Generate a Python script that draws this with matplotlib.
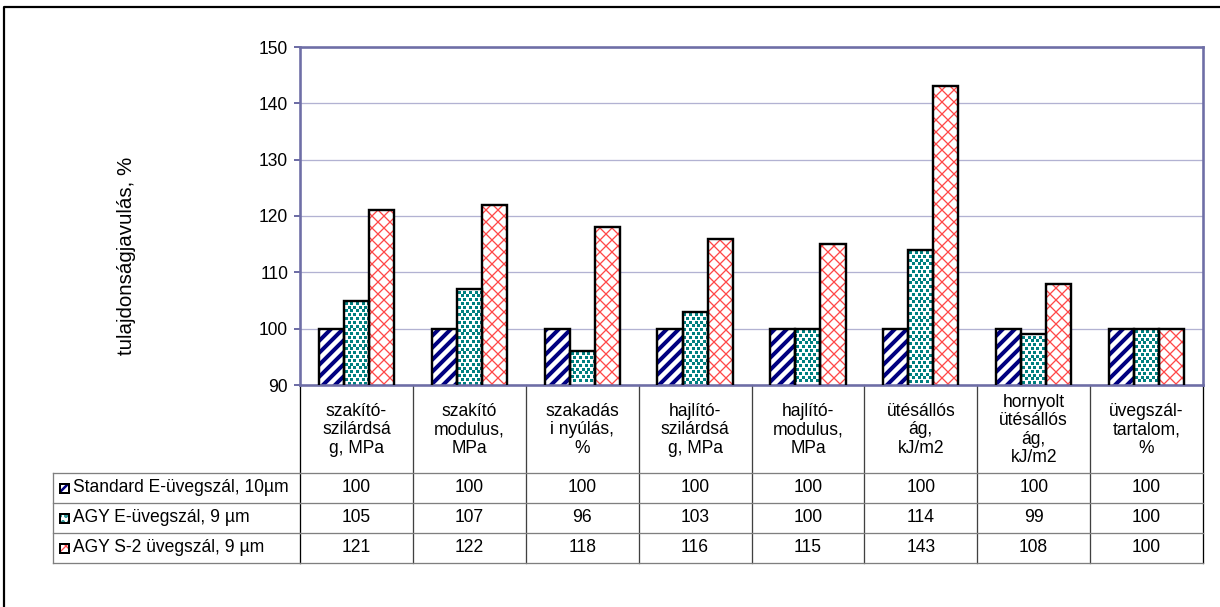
import matplotlib
matplotlib.use("Agg")
import matplotlib.pyplot as plt
import numpy as np
from matplotlib import transforms
from matplotlib.lines import Line2D
from matplotlib.patches import Rectangle

plt.rcParams['font.family'] = ['Liberation Sans', 'DejaVu Sans']

categories = ["szakító-\nszilárdsá\ng, MPa", "szakító\nmodulus,\nMPa", "szakadás\ni nyúlás,\n%",
              "hajlító-\nszilárdsá\ng, MPa", "hajlító-\nmodulus,\nMPa", "ütésállós\nág,\nkJ/m2",
              "hornyolt\nütésállós\nág,\nkJ/m2", "üvegszál-\ntartalom,\n%"]
series_names = ["Standard E-üvegszál, 10µm", "AGY E-üvegszál, 9 µm", "AGY S-2 üvegszál, 9 µm"]
standard_e = [100, 100, 100, 100, 100, 100, 100, 100]
agy_e = [105, 107, 96, 103, 100, 114, 99, 100]
agy_s2 = [121, 122, 118, 116, 115, 143, 108, 100]
y_ticks = [90, 100, 110, 120, 130, 140, 150]
y_label = "tulajdonságjavulás, %"

W, H, DPI = 1220, 607, 72
fig = plt.figure(figsize=(W / DPI, H / DPI), dpi=DPI)
fig.patch.set_facecolor('white')


def fx(x):
    return x / W


def fy(y):
    return 1 - y / H


AX_L, AX_R, AX_T, AX_B = 300, 1203, 47, 385
ax = fig.add_axes([fx(AX_L), fy(AX_B), (AX_R - AX_L) / W, (AX_B - AX_T) / H])

frame_col = '#6E6EA6'
grid_col = '#B2B2D2'
FS = 17.5

series = [standard_e, agy_e, agy_s2]
hatches = ['//', None, 'xx']
hatch_cols = ['#000080', '#008080', '#FF4848']
hatch_lw = [4.0, 1.0, 1.3]
bw = 0.222
x = np.arange(len(categories))
offsets = [-bw, 0, bw]
ax.set_xlim(-0.5, len(categories) - 0.5)
ax.set_ylim(y_ticks[0], y_ticks[-1])

# pixel -> data scale for the dotted texture
px_x = (len(categories)) / (AX_R - AX_L)
px_y = (y_ticks[-1] - y_ticks[0]) / (AX_B - AX_T)


def dot_texture(bar, color):
    x0, w = bar.get_x(), bar.get_width()
    y0, y1 = y_ticks[0], bar.get_height()
    xs, ys = [], []
    dx, dy = 5.6, 3.8
    ny = int((y1 - y0) / (dy * px_y)) + 1
    nx = int(w / (dx * px_x)) + 2
    for j in range(ny):
        yy = y1 - (j + 0.6) * dy * px_y
        if yy < y0 + 1.5 * px_y:
            continue
        shift = 0.5 if j % 2 else 0.0
        for i in range(-1, nx):
            xs.append(x0 + (i + 0.35 + shift) * dx * px_x)
            ys.append(yy)
    sc = ax.scatter(xs, ys, marker='s', s=9, color=color, linewidths=0, zorder=2.5)
    sc.set_clip_path(bar)


for vals, off, h, hc, hlw in zip(series, offsets, hatches, hatch_cols, hatch_lw):
    with plt.rc_context({'hatch.linewidth': hlw}):
        bars = ax.bar(x + off, vals, bw, color='white', edgecolor=hc, hatch=h,
                      linewidth=0, zorder=2)
        for b in bars:
            if hasattr(b, 'set_hatch_linewidth'):
                b.set_hatch_linewidth(hlw)
    if h is None:
        for b in bars:
            dot_texture(b, hc)
    ax.bar(x + off, vals, bw, fill=False, edgecolor='black', linewidth=2.4, zorder=3)

ax.set_yticks(y_ticks)
ax.set_xticks([])
ax.yaxis.grid(True, color=grid_col, linewidth=1.3)
ax.set_axisbelow(True)
for s in ax.spines.values():
    s.set_color(frame_col)
    s.set_linewidth(2.6)
ax.tick_params(axis='y', direction='out', length=6, width=2, color=frame_col,
               labelsize=FS, pad=6)

fig.text(fx(127), fy(256), y_label, rotation=90, ha='center', va='center', fontsize=20.5)

# data table below the plot
blend = transforms.blended_transform_factory(ax.transData, fig.transFigure)
row_lines = [473, 503, 533, 563]
line_col = '#7F7F7F'
x_left, x_right = -0.5, len(categories) - 0.5

for i in range(len(categories) + 1):
    ax.add_artist(Line2D([i - 0.5, i - 0.5], [fy(AX_B), fy(row_lines[-1])], transform=blend,
                         color='#404040' if 0 < i < len(categories) else 'black',
                         linewidth=1.3, clip_on=False))
for yy in row_lines:
    fig.add_artist(Line2D([fx(53), fx(AX_L)], [fy(yy), fy(yy)], color=line_col, linewidth=1.3))
    ax.add_artist(Line2D([x_left, x_right], [fy(yy), fy(yy)], transform=blend,
                         color=line_col, linewidth=1.3, clip_on=False))
fig.add_artist(Line2D([fx(53), fx(53)], [fy(row_lines[0]), fy(row_lines[-1])],
                      color=line_col, linewidth=1.3))

for i, c in enumerate(categories):
    ax.text(i, fy(430), c, transform=blend, ha='center', va='center', fontsize=FS,
            linespacing=1.08, clip_on=False)

key_hatches = ['//', '..', 'xx']
for r, (name, vals) in enumerate(zip(series_names, series)):
    yc = (row_lines[r] + row_lines[r + 1]) / 2
    for i, v in enumerate(vals):
        ax.text(i, fy(yc), f"{v}", transform=blend, ha='center', va='center',
                fontsize=FS, clip_on=False)
    fig.text(fx(73), fy(yc), name, ha='left', va='center', fontsize=FS)
    with plt.rc_context({'hatch.linewidth': 2.5 if r < 2 else 1.3}):
        key = Rectangle((fx(60), fy(yc + 4.5)), 9 / W, 9 / H, transform=fig.transFigure,
                        facecolor='white', edgecolor=hatch_cols[r], hatch=key_hatches[r],
                        linewidth=0)
        fig.add_artist(key)
    fig.add_artist(Rectangle((fx(60), fy(yc + 4.5)), 9 / W, 9 / H, transform=fig.transFigure,
                             fill=False, edgecolor='black', linewidth=2.0))

# chart border
fig.add_artist(Line2D([fx(3.5), fx(3.5), fx(W)], [fy(H), fy(6.5), fy(6.5)],
                      color='black', linewidth=2.2))

fig.savefig('out.png', dpi=DPI, facecolor='white')
